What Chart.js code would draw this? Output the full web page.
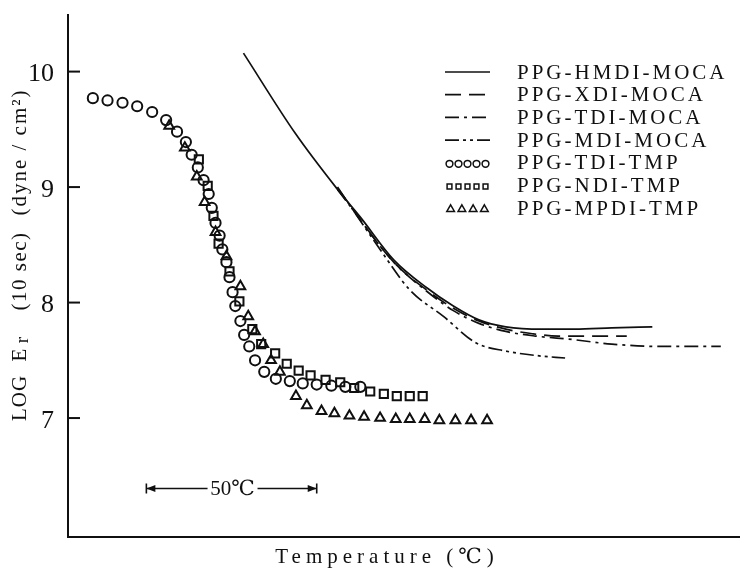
<!DOCTYPE html>
<html>
<head>
<meta charset="utf-8">
<script src="https://cdn.jsdelivr.net/npm/chart.js@4.4.0/dist/chart.umd.min.js"></script>
<style>
  html, body { margin: 0; padding: 0; background: #fff; }
  canvas { display: block; }
</style>
</head>
<body>
<canvas id="myChart" width="747" height="568"></canvas>
<script>
// series names, in legend order
const seriesNames = ["PPG-HMDI-MOCA", "PPG-XDI-MOCA", "PPG-TDI-MOCA", "PPG-MDI-MOCA",
  "PPG-TDI-TMP", "PPG-NDI-TMP", "PPG-MPDI-TMP"];

// y ticks (LOG Er)
const yTicks = [7, 8, 9, 10];

// temperature is relative (no tick labels), in degC
const hmdiTemp = [51.5, 66.6, 79.1, 85.8, 95.6, 105.2, 113.1, 120.6, 128.5, 139.2, 148.8, 159.6, 171.5];
const hmdiLog  = [10.16, 9.47, 8.98, 8.74, 8.37, 8.13, 7.97, 7.85, 7.79, 7.77, 7.77, 7.78, 7.79];

const xdiTemp = [79.1, 95.6, 105.2, 113.1, 120.6, 128.5, 136.3, 143.9, 154.7, 164.0];
const xdiLog  = [8.99, 8.35, 8.11, 7.95, 7.84, 7.77, 7.73, 7.71, 7.71, 7.71];

const tdiMocaTemp = [79.1, 95.6, 105.2, 113.1, 120.6, 128.5, 137.2, 148.0, 159.6, 174.1, 191.6];
const tdiMocaLog  = [8.98, 8.35, 8.10, 7.93, 7.82, 7.75, 7.71, 7.68, 7.64, 7.62, 7.62];

const mdiTemp = [79.1, 91.6, 100.3, 110.2, 119.8, 128.5, 137.8, 145.9];
const mdiLog  = [9.00, 8.46, 8.11, 7.88, 7.65, 7.58, 7.54, 7.52];

const tdiTmpTemp = [7.3, 11.6, 16.0, 20.3, 24.7, 28.8, 32.0, 34.6, 36.3, 38.1, 39.8, 41.3, 42.2, 43.3, 44.5, 45.3,
  46.5, 47.4, 48.3, 49.1, 50.6, 51.7, 53.2, 54.9, 57.6, 61.0, 65.1, 68.9, 73.0, 77.3, 81.4, 85.8];
const tdiTmpLog  = [9.77, 9.75, 9.73, 9.70, 9.65, 9.58, 9.48, 9.39, 9.28, 9.17, 9.06, 8.94, 8.82, 8.69, 8.58, 8.46,
  8.35, 8.22, 8.09, 7.97, 7.84, 7.72, 7.62, 7.50, 7.40, 7.34, 7.32, 7.30, 7.29, 7.28, 7.27, 7.27];

const ndiTemp = [38.4, 41.0, 42.7, 44.2, 47.4, 50.3, 54.1, 56.7, 60.8, 64.2, 67.7, 71.2, 75.6, 79.9, 84.0, 88.7,
  92.7, 96.5, 100.3, 104.1];
const ndiLog  = [9.24, 9.01, 8.75, 8.51, 8.27, 8.01, 7.77, 7.64, 7.56, 7.47, 7.41, 7.37, 7.33, 7.31, 7.26, 7.23,
  7.21, 7.19, 7.19, 7.19];

const mpdiTemp = [29.7, 34.3, 37.8, 40.1, 43.3, 46.5, 50.6, 52.9, 54.9, 57.3, 59.6, 62.2, 66.9, 70.1, 74.4, 78.2,
  82.6, 86.9, 91.6, 96.2, 100.3, 104.7, 109.0, 113.7, 118.3, 123.0];
const mpdiLog  = [9.53, 9.34, 9.09, 8.87, 8.61, 8.40, 8.14, 7.88, 7.75, 7.64, 7.50, 7.40, 7.19, 7.11, 7.06, 7.04,
  7.02, 7.01, 7.00, 6.99, 6.99, 6.99, 6.98, 6.98, 6.98, 6.98];

// the "50 degC" scale bar
const barStart = 23;
const barSpan = 50;
const barLevel = 6.39;

const ink = "#101010";
const serif = "'Liberation Serif', 'DejaVu Serif', serif";

function pts(xs, ys) {
  return xs.map((x, i) => ({ x: x, y: ys[i] }));
}

function lineSet(name, xs, ys, dash) {
  return {
    label: name,
    data: pts(xs, ys),
    showLine: true,
    borderColor: ink,
    borderWidth: 1.7,
    borderDash: dash,
    pointRadius: 0,
    cubicInterpolationMode: "monotone",
    fill: false,
  };
}

function markSet(name, xs, ys, style, r) {
  return {
    label: name,
    data: pts(xs, ys),
    showLine: false,
    pointStyle: style,
    pointRadius: r,
    pointBorderWidth: 2,
    pointBorderColor: ink,
    pointBackgroundColor: "rgba(0,0,0,0)",
  };
}

const datasets = [
  lineSet(seriesNames[0], hmdiTemp, hmdiLog, []),
  lineSet(seriesNames[1], xdiTemp, xdiLog, [16, 8]),
  lineSet(seriesNames[2], tdiMocaTemp, tdiMocaLog, [14, 5, 3, 5]),
  lineSet(seriesNames[3], mdiTemp, mdiLog, [14, 4, 3, 4, 3, 4]),
  markSet(seriesNames[4], tdiTmpTemp, tdiTmpLog, "circle", 5.1),
  markSet(seriesNames[5], ndiTemp, ndiLog, "rect", 5.8),
  markSet(seriesNames[6], mpdiTemp, mpdiLog, "triangle", 5.6),
];

function spaced(ctx, txt, x, y, spacing) {
  ctx.letterSpacing = spacing + "px";
  ctx.fillText(txt, x, y);
  ctx.letterSpacing = "0px";
}

function marker(ctx, style, x, y, r) {
  ctx.beginPath();
  if (style === "circle") {
    ctx.arc(x, y, r, 0, Math.PI * 2);
  } else if (style === "rect") {
    const s = r * Math.SQRT1_2;
    ctx.rect(x - s, y - s, 2 * s, 2 * s);
  } else {
    ctx.moveTo(x, y - r);
    ctx.lineTo(x + r * 0.866, y + r / 2);
    ctx.lineTo(x - r * 0.866, y + r / 2);
    ctx.closePath();
  }
  ctx.stroke();
}

const extras = {
  id: "extras",
  afterDraw(chart) {
    const ctx = chart.ctx;
    const xs = chart.scales.x;
    const ys = chart.scales.y;
    const area = chart.chartArea;
    ctx.save();
    ctx.strokeStyle = ink;
    ctx.fillStyle = ink;

    // inward tick marks
    ctx.lineWidth = 2;
    yTicks.forEach((v) => {
      const py = ys.getPixelForValue(v);
      ctx.beginPath();
      ctx.moveTo(area.left, py);
      ctx.lineTo(area.left + 12, py);
      ctx.stroke();
    });

    // y title, rotated
    ctx.save();
    ctx.translate(20, 0);
    ctx.rotate(-Math.PI / 2);
    ctx.textAlign = "center";
    ctx.textBaseline = "middle";
    ctx.font = "21px " + serif;
    spaced(ctx, "LOG", -398, 0, 1);
    ctx.fillText("E", -355, 0);
    ctx.font = "19px " + serif;
    ctx.fillText("r", -340, 3);
    ctx.font = "21px " + serif;
    spaced(ctx, "(10 sec)", -271, 0, 1.5);
    spaced(ctx, "(dyne / cm²)", -152, 0, 2);
    ctx.restore();

    // x title
    ctx.textAlign = "center";
    ctx.textBaseline = "middle";
    ctx.font = "21px " + serif;
    spaced(ctx, "Temperature (℃)", 387, 557, 5);

    // 50 degC scale bar
    const x1 = xs.getPixelForValue(barStart);
    const x2 = xs.getPixelForValue(barStart + barSpan);
    const by = ys.getPixelForValue(barLevel);
    const mid = (x1 + x2) / 2;
    ctx.lineWidth = 1.6;
    ctx.beginPath();
    ctx.moveTo(x1, by - 5); ctx.lineTo(x1, by + 5);
    ctx.moveTo(x2, by - 5); ctx.lineTo(x2, by + 5);
    ctx.moveTo(x1, by); ctx.lineTo(mid - 24, by);
    ctx.moveTo(mid + 26, by); ctx.lineTo(x2, by);
    ctx.stroke();
    ctx.beginPath();
    ctx.moveTo(x1, by); ctx.lineTo(x1 + 9, by - 3.5); ctx.lineTo(x1 + 9, by + 3.5); ctx.closePath();
    ctx.moveTo(x2, by); ctx.lineTo(x2 - 9, by - 3.5); ctx.lineTo(x2 - 9, by + 3.5); ctx.closePath();
    ctx.fill();
    ctx.font = "21px " + serif;
    ctx.fillText("50℃", mid + 1, by + 1);

    // legend
    const lx0 = 445, lx1 = 490, tx = 517;
    chart.data.datasets.forEach((ds, i) => {
      const ly = 72 + i * 22.7;
      if (ds.showLine) {
        ctx.lineWidth = 1.7;
        ctx.setLineDash(ds.borderDash);
        ctx.beginPath();
        ctx.moveTo(lx0, ly);
        ctx.lineTo(lx1, ly);
        ctx.stroke();
        ctx.setLineDash([]);
      } else {
        ctx.lineWidth = 1.5;
        const n = ds.pointStyle === "triangle" ? 4 : 5;
        const step = (lx1 - lx0) / n;
        for (let k = 0; k < n; k++) {
          const r = ds.pointStyle === "triangle" ? 4.4 : 3.4;
          marker(ctx, ds.pointStyle, lx0 + step * (k + 0.5), ly + 1, r);
        }
      }
      ctx.textAlign = "left";
      ctx.textBaseline = "middle";
      ctx.font = "21px " + serif;
      spaced(ctx, ds.label, tx, ly + 1, 3);
    });

    ctx.restore();
  },
};

const ctx = document.getElementById("myChart");

var myChart = new Chart(ctx, {
  type: "scatter",
  data: { datasets: datasets },
  options: {
    responsive: false,
    animation: false,
    devicePixelRatio: 1,
    events: [],
    layout: { padding: { top: 15, left: 0, right: 0, bottom: 0 } },
    plugins: {
      legend: { display: false },
      tooltip: { enabled: false },
    },
    scales: {
      x: {
        type: "linear",
        min: 0,
        max: 197,
        grid: { display: false },
        border: { display: true, color: ink, width: 2 },
        ticks: { display: false },
        afterFit: (s) => {
          s.height = 31;
          s.paddingLeft = 0;
          s.paddingRight = 0;
        },
      },
      y: {
        type: "linear",
        min: 5.97,
        max: 10.49,
        grid: { display: false },
        border: { display: true, color: ink, width: 2 },
        afterBuildTicks: (s) => {
          s.ticks = yTicks.map((v) => ({ value: v }));
        },
        ticks: {
          color: ink,
          padding: 6,
          labelOffset: 3,
          font: { family: serif, size: 26 },
          callback: (v) => String(v),
        },
        afterFit: (s) => {
          s.width = 68;
          s.paddingTop = 0;
          s.paddingBottom = 0;
        },
      },
    },
  },
  plugins: [extras],
});
</script>
</body>
</html>
